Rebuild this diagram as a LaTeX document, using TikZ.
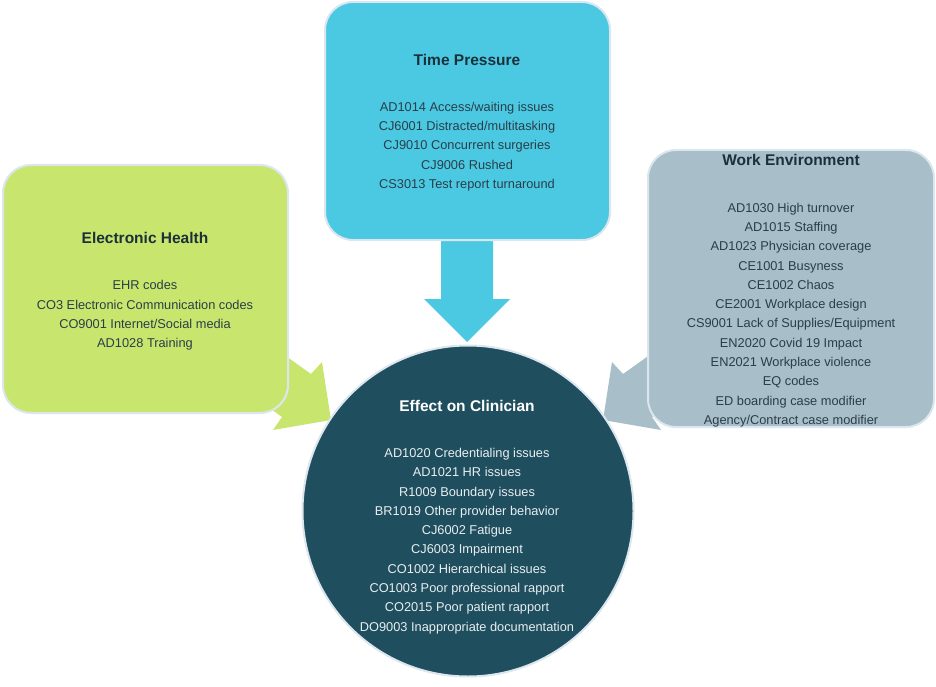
\documentclass[tikz,border=0pt]{standalone}
\usepackage{fontspec}
\setmainfont{Liberation Sans}
\definecolor{tpc}{RGB}{75,201,227}
\definecolor{ehc}{RGB}{200,230,110}
\definecolor{wec}{RGB}{168,190,200}
\definecolor{ecc}{RGB}{31,78,94}
\definecolor{edgec}{RGB}{220,230,238}
\definecolor{txtc}{RGB}{42,62,72}
\definecolor{ttlc}{RGB}{28,48,58}
\definecolor{wtxt}{RGB}{232,238,240}
\tikzset{
  box/.style={draw=edgec, line width=2pt, rounded corners=28pt, inner sep=0pt},
  ttl/.style={font=\fontsize{15.5}{18}\selectfont\bfseries, text=ttlc, inner sep=0pt},
  lst/.style={font=\fontsize{12.8}{19.3}\selectfont, text=txtc, align=center, inner sep=0pt},
  blk/.style={draw=none}
}
\begin{document}
\begin{tikzpicture}[x=1pt,y=-1pt]
\useasboundingbox (0,0) rectangle (936,687);
% block arrows (drawn behind the boxes)
\fill[tpc] (441,235) -- (493,235) -- (493,299) -- (510,299) -- (467,342) -- (424,299) -- (441,299) -- cycle;
\fill[ehc] (262,339) -- (311,374) -- (322,362) -- (331,420) -- (273,430) -- (282,417) -- (233,382) -- cycle;
\fill[wec] (672,339) -- (623,374) -- (612,362) -- (603,420) -- (661,430) -- (652,417) -- (701,382) -- cycle;
% boxes
\node[box, fill=tpc, minimum width=285pt, minimum height=238pt] (tp) at (467.5,121) {};
\node[box, fill=ehc, minimum width=285pt, minimum height=248pt] (eh) at (145.5,289) {};
\node[box, fill=wec, minimum width=286pt, minimum height=277pt] (we) at (791,288.5) {};
\node[circle, draw=edgec, line width=2pt, fill=ecc, minimum size=331pt, inner sep=0pt] (ec) at (468,511) {};
% texts
\node[ttl] (tpT) at (467,60) {Time Pressure};
\node[lst] (tpL) at (467,146.5) {AD1014 Access/waiting issues\\CJ6001 Distracted/multitasking\\CJ9010 Concurrent surgeries\\CJ9006 Rushed\\CS3013 Test report turnaround};
\node[ttl] (ehT) at (145,238) {Electronic Health};
\node[lst] (ehL) at (145,315.5) {EHR codes\\CO3 Electronic Communication codes\\CO9001 Internet/Social media\\AD1028 Training};
\node[ttl] (weT) at (791,160) {Work Environment};
\node[lst] (weL) at (791,315) {AD1030 High turnover\\AD1015 Staffing\\AD1023 Physician coverage\\CE1001 Busyness\\CE1002 Chaos\\CE2001 Workplace design\\CS9001 Lack of Supplies/Equipment\\EN2020 Covid 19 Impact\\EN2021 Workplace violence\\EQ codes\\ED boarding case modifier\\Agency/Contract case modifier};
\node[ttl, text=white] (ecT) at (467,406) {Effect on Clinician};
\node[lst, text=wtxt] (ecL) at (467,541) {AD1020 Credentialing issues\\AD1021 HR issues\\R1009 Boundary issues\\BR1019 Other provider behavior\\CJ6002 Fatigue\\CJ6003 Impairment\\CO1002 Hierarchical issues\\CO1003 Poor professional rapport\\CO2015 Poor patient rapport\\DO9003 Inappropriate documentation};
\end{tikzpicture}
\end{document}
